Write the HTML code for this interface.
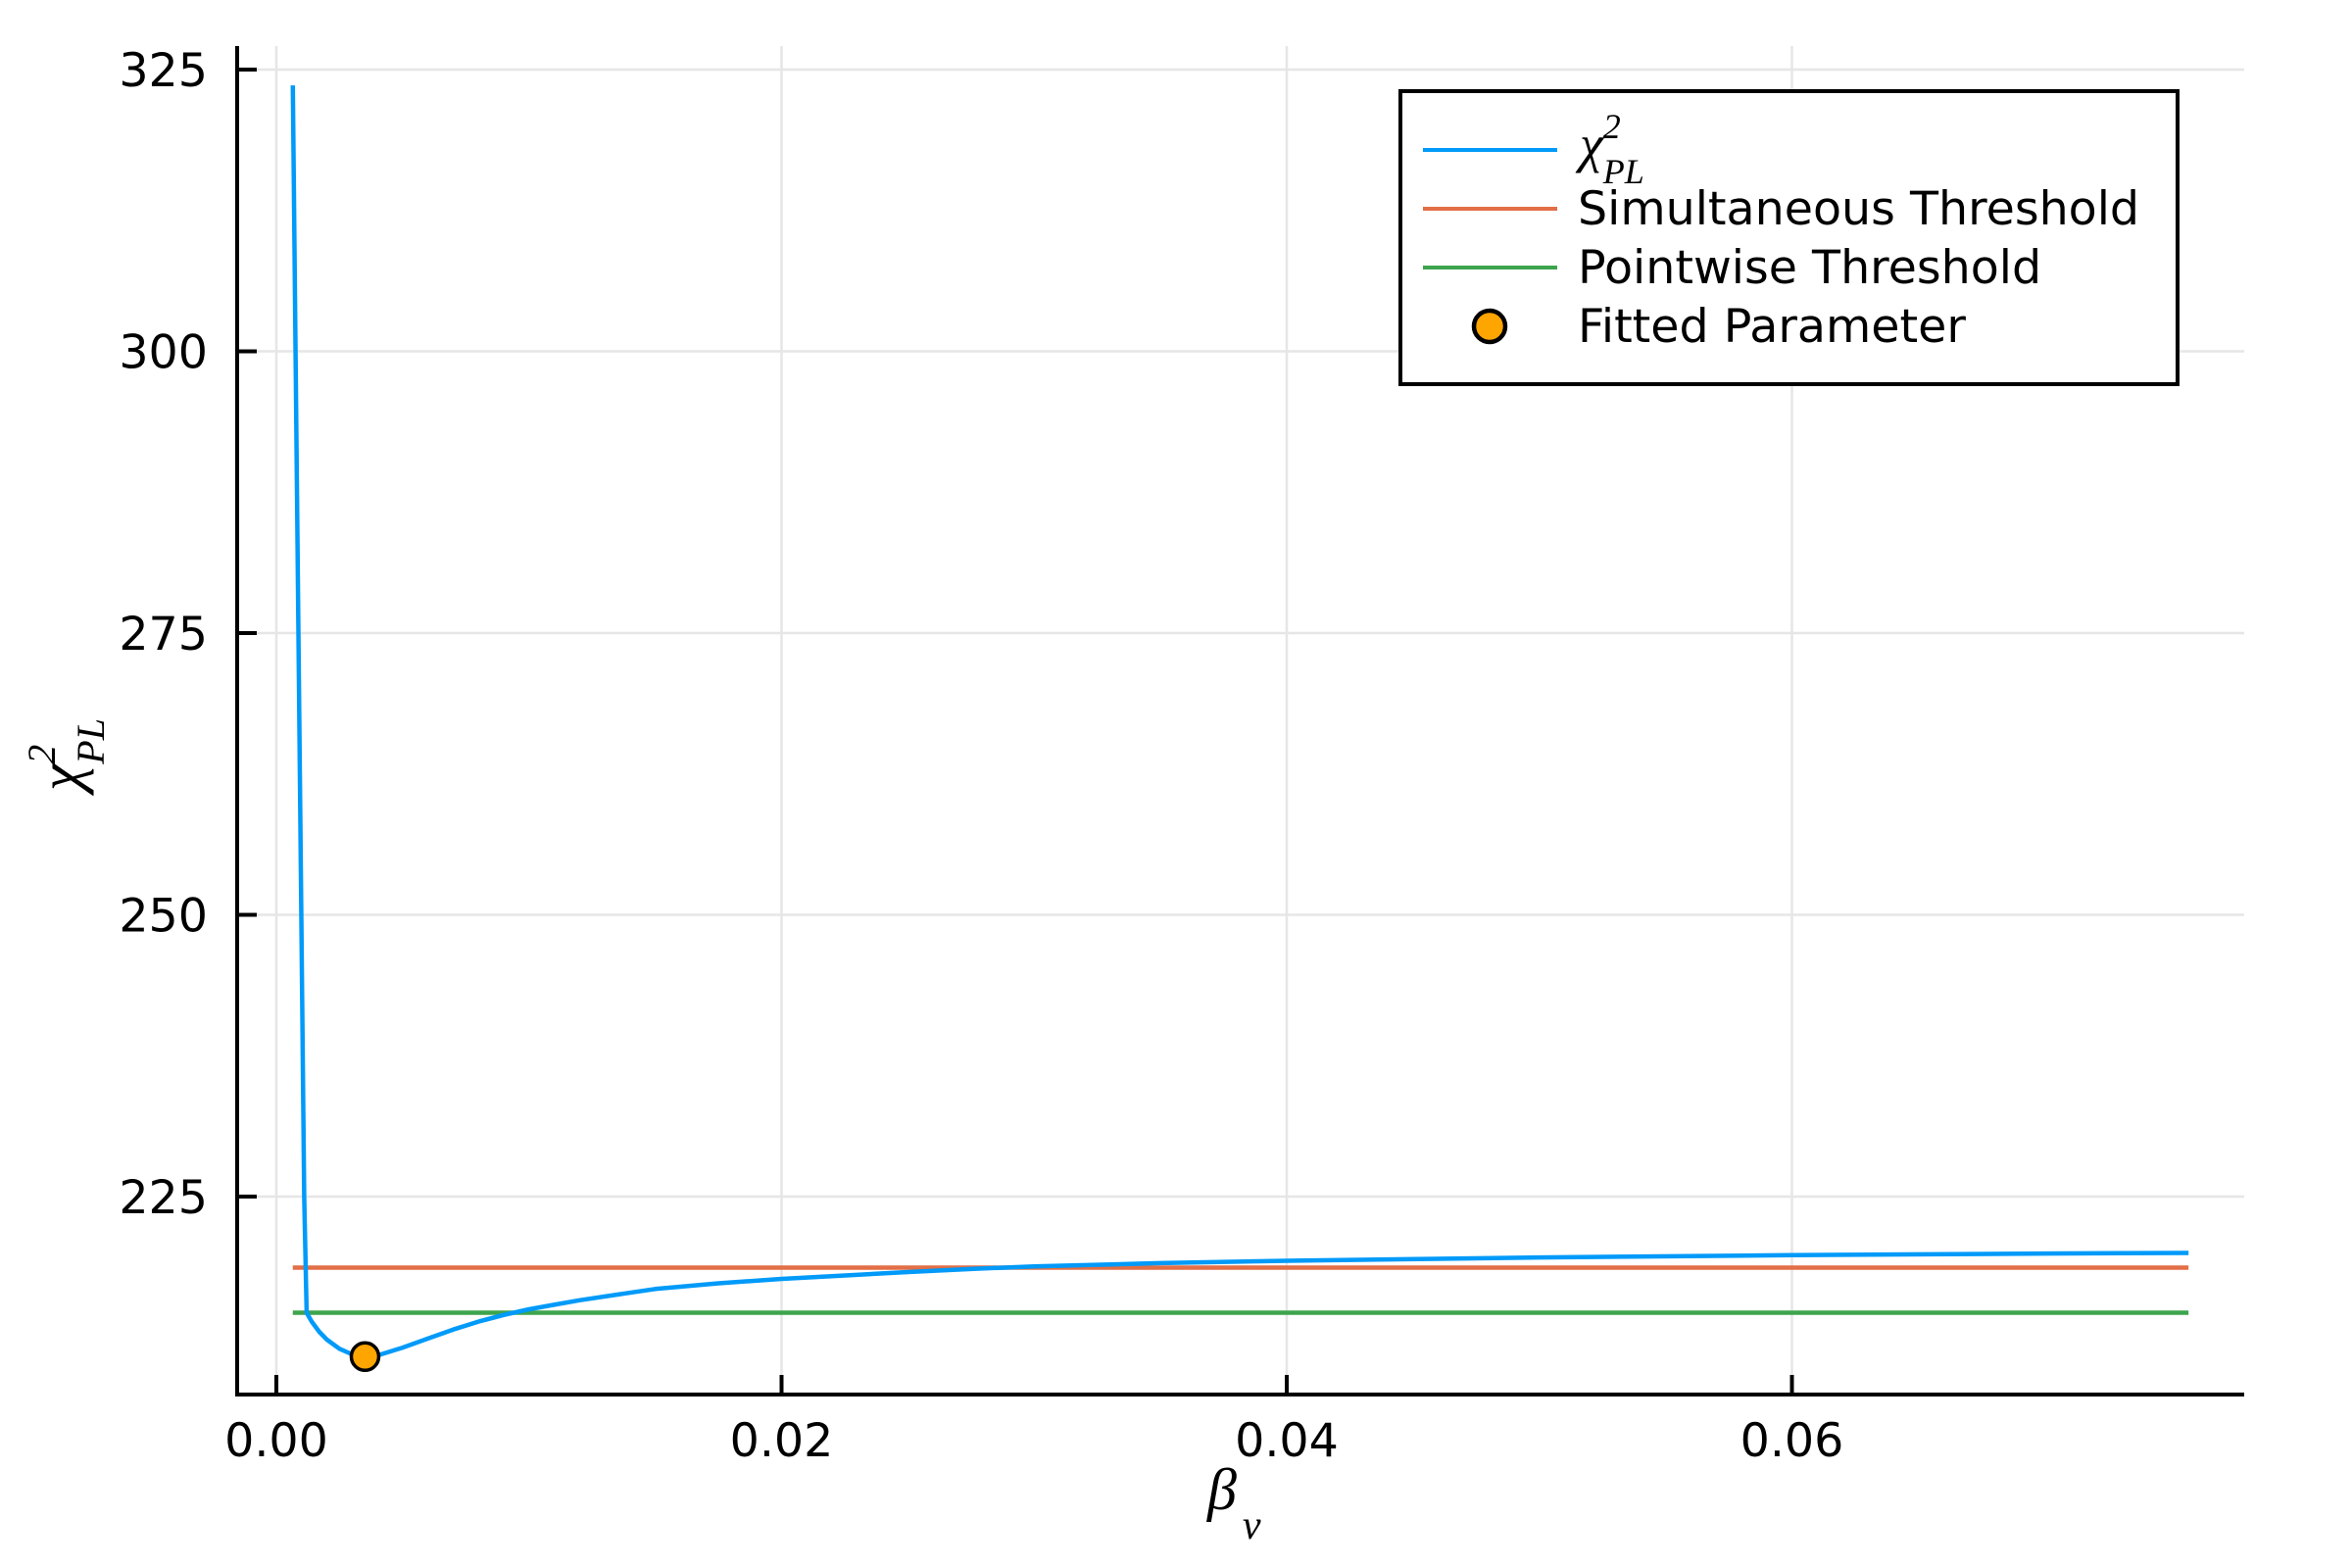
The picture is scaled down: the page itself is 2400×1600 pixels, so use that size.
<!DOCTYPE html>
<html><head><meta charset="utf-8"><style>
html,body{margin:0;padding:0;background:#fff;}
svg{display:block;}
text{font-family:"DejaVu Sans","Liberation Sans",sans-serif;}
.math{font-family:"Liberation Serif","DejaVu Serif",serif;font-style:italic;}
</style></head><body>
<svg id="chart" width="2400" height="1600" viewBox="0 0 2400 1600" xmlns="http://www.w3.org/2000/svg">
<rect width="2400" height="1600" fill="#fff"/>
<g id="grid"></g>
<g id="series"></g>
<g id="axes"></g>
<text class="math" x="1232" y="1540" font-size="60">β<tspan font-size="42" dx="6" dy="30">v</tspan></text>
<text class="math" transform="translate(82,770) rotate(-90)" font-size="62" text-anchor="middle">χ<tspan font-size="40" dy="-26">2</tspan><tspan font-size="40" dx="-20" dy="50">PL</tspan></text>
<g>
<rect x="1429" y="93" width="793" height="299" fill="#fff" stroke="#000" stroke-width="4"/>
<line x1="1452" y1="153" x2="1589" y2="153" stroke="#009af9" stroke-width="4"/>
<text class="math" x="1612" y="165" font-size="54">χ<tspan font-size="36" dy="-24">2</tspan><tspan font-size="36" dx="-18" dy="46">PL</tspan></text>
<line x1="1452" y1="213" x2="1589" y2="213" stroke="#e26f46" stroke-width="4"/>
<text x="1610" y="229" font-size="47.5">Simultaneous Threshold</text>
<line x1="1452" y1="273" x2="1589" y2="273" stroke="#3da44d" stroke-width="4"/>
<text x="1610" y="289" font-size="47.5">Pointwise Threshold</text>
<circle cx="1520" cy="333" r="16" fill="#ffa500" stroke="#000" stroke-width="4.5"/>
<text x="1610" y="349" font-size="47.5">Fitted Parameter</text>
</g>
</svg>
<script>
const xTicks=[0,0.02,0.04,0.06];
const xTickLabels=["0.00","0.02","0.04","0.06"];
const yTicks=[225,250,275,300,325];
const yTickLabels=["225","250","275","300","325"];
const chiX=[0.00065,0.0011,0.0012,0.0014,0.0017,0.002,0.0025,0.003,0.0035,0.004,0.005,0.006,0.007,0.008,0.009,0.010,0.011,0.012,0.0135,0.015,0.0175,0.02,0.025,0.0277,0.03,0.035,0.04,0.05,0.06,0.07,0.0757];
const chiY=[323.6,225,214.7,213.9,213.0,212.3,211.5,211.0,210.8,210.9,211.6,212.4,213.2,213.9,214.5,215.0,215.4,215.8,216.3,216.8,217.3,217.7,218.3,218.6,218.8,219.1,219.3,219.6,219.8,219.95,220.0];
const simThreshold=[218.7];
const pointThreshold=[214.7];
const thrX=[0.00065,0.0757];
const fittedX=[0.00351];
const fittedY=[210.8];

const X0=242,X1=2290,Y0=47,Y1=1423;
function sx(v){return 282+v*25775;}
function sy(v){return 71+(325-v)*11.5;}
const NS="http://www.w3.org/2000/svg";
function mk(tag,attrs,parent){const e=document.createElementNS(NS,tag);for(const k in attrs)e.setAttribute(k,attrs[k]);document.getElementById(parent).appendChild(e);return e;}

xTicks.forEach((t,i)=>{
 const g=mk('line',{x1:sx(t),x2:sx(t),y1:Y0,y2:Y1,stroke:'#e6e6e6','stroke-width':2.5},'grid');
 
 
 const tk=mk('line',{x1:sx(t),x2:sx(t),y1:Y1,y2:Y1-20,stroke:'#000','stroke-width':4},'axes');
 
 
 const lb=mk('text',{x:sx(t),y:1486,'font-size':47.5,'text-anchor':'middle'},'axes');
 lb.textContent=xTickLabels[i];
 
 
});
yTicks.forEach((t,i)=>{
 const g=mk('line',{x1:X0,x2:X1,y1:sy(t),y2:sy(t),stroke:'#e6e6e6','stroke-width':2.5},'grid');
 
 
 const tk=mk('line',{x1:X0,x2:X0+20,y1:sy(t),y2:sy(t),stroke:'#000','stroke-width':4},'axes');
 
 
 const lb=mk('text',{x:212,y:sy(t)+17,'font-size':47.5,'text-anchor':'end'},'axes');
 lb.textContent=yTickLabels[i];
 
 
});
const ax=mk('path',{d:`M${X0},${Y0} L${X0},${Y1} L${X1},${Y1}`,fill:'none',stroke:'#000','stroke-width':4},'axes');



const s1=mk('line',{x1:sx(thrX[0]),x2:sx(thrX[1]),y1:sy(simThreshold[0]),y2:sy(simThreshold[0]),stroke:'#e26f46','stroke-width':4.5},'series');


const s2=mk('line',{x1:sx(thrX[0]),x2:sx(thrX[1]),y1:sy(pointThreshold[0]),y2:sy(pointThreshold[0]),stroke:'#3da44d','stroke-width':4.5},'series');


let d='';chiX.forEach((x,i)=>{d+=(i?'L':'M')+sx(x).toFixed(1)+','+sy(chiY[i]).toFixed(1)+' ';});
const c=mk('path',{d:d,fill:'none',stroke:'#009af9','stroke-width':4.5,'stroke-linejoin':'round'},'series');


fittedX.forEach((x,i)=>{
 const m=mk('circle',{cx:sx(x),cy:sy(fittedY[i]),r:14,fill:'#ffa500',stroke:'#000','stroke-width':3.5},'series');
 
 
});
</script>
</body></html>
